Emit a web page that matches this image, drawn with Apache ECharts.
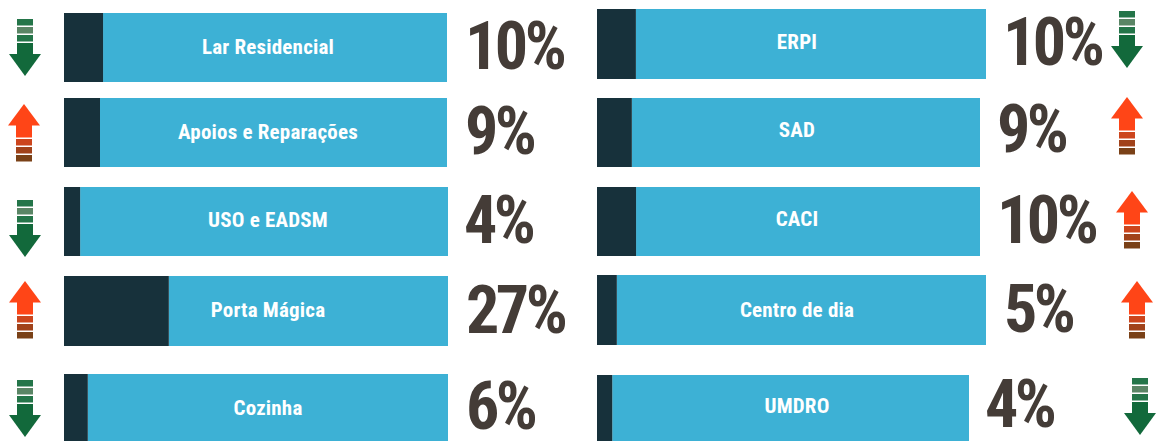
<!DOCTYPE html>
<html><head><meta charset="utf-8">
<style>
html,body{margin:0;padding:0;background:#fff}
#c{width:1163px;height:441px;letter-spacing:0.2px}
#c text[style*="66px"]{letter-spacing:-3.5px}
</style>
<script src="https://cdn.jsdelivr.net/npm/echarts@6/dist/echarts.min.js"></script>
</head><body><div id="c"></div>
<script>
const categories = ['Lar Residencial','Apoios e Reparações','USO e EADSM','Porta Mágica','Cozinha','ERPI','SAD','CACI','Centro de dia','UMDRO'];
const percentLabels = [10,9,4,27,6,10,9,10,5,4];
const barValues = [10.2,9.4,4.2,27.3,6.2,10,9.1,10.2,5.1,4.1];
const directions = ['down','up','down','up','down','down','up','up','up','down'];

// layout only: [left, top, width, height]
const boxes = [[64,13,383,69],[64,98,383,69],[64,187,384,69],[64,276,384,70],[64,374,384,67],
               [597,9,389,70],[597,98,383,69],[597,187,383,69],[597,275,389,70],[597,375,372,66]];
const pctX = [465,465,464,466,466,1003,997,997,1004,985];
const pctDy = [-1,-1,-1,-1,-1,-2,-3,-1,-1,-4];
const nameX = [268,268,268,268,268,797,797,797,797,797];
const nameDy = [1,1,2,1,0,2,3,3,0,2];
const arrowPos = [[25,19],[24,104],[25,200],[25,281],[25,380],[1127,11],[1127,97],[1132,191],[1137,281],[1140,378]];

const COL_LIGHT='#3DB1D5', COL_DARK='#17313B', COL_TXT='#443C37';
const FONT='"Liberation Sans Narrow","Roboto Condensed","Liberation Sans",sans-serif';

const grid=[],xAxis=[],yAxis=[],series=[],graphic=[];
categories.forEach((name,i)=>{
  const [l,t,w,h]=boxes[i];
  grid.push({left:l,top:t,width:w,height:h,containLabel:false});
  xAxis.push({gridIndex:i,type:'value',min:0,max:100,show:false});
  const shift = nameDy[i] ? {verticalAlign:'bottom',lineHeight:nameDy[i]*2} : {verticalAlign:'middle'};
  yAxis.push({gridIndex:i,type:'category',data:[name],z:6,
    axisLine:{show:false},axisTick:{show:false},splitLine:{show:false},
    axisLabel:{inside:true,align:'center',margin:nameX[i]-l,color:'#fff',fontFamily:FONT,fontWeight:'bold',fontSize:21,...shift}});
  const common={type:'bar',xAxisIndex:i,yAxisIndex:i,stack:'s'+i,barWidth:'100%',silent:true,animation:false};
  series.push({...common,name:name+' dark',data:[barValues[i]],itemStyle:{color:COL_DARK},z:3,
    label:{show:true,formatter:()=>percentLabels[i]+'%',position:[pctX[i]-l,h/2+pctDy[i]],align:'left',verticalAlign:'middle',
      color:COL_TXT,fontFamily:FONT,fontWeight:'bold',fontSize:66,lineHeight:50}});
  series.push({...common,name:name+' rest',data:[100-barValues[i]],itemStyle:{color:COL_LIGHT},z:2});

  // trend arrow
  const [cx,top]=arrowPos[i];
  const rect=(x,y,wd,ht,fill)=>graphic.push({type:'rect',shape:{x,y,width:wd,height:ht},style:{fill},silent:true});
  const poly=(points,fill)=>graphic.push({type:'polygon',shape:{points},style:{fill},silent:true});
  if(directions[i]==='down'){
    rect(cx-8,top,16,6.5,'#247549');
    rect(cx-8,top+8,16,6.5,'#5A8565');
    rect(cx-8,top+16,16,6.5,'#247549');
    rect(cx-8,top+24,16,12,'#12693B');
    poly([[cx-16,top+35],[cx+16,top+35],[cx,top+57]],'#12693B');
  }else{
    poly([[cx,top],[cx+16,top+21.5],[cx-16,top+21.5]],'#FF4517');
    rect(cx-8,top+21,16,12.5,'#FF4517');
    rect(cx-8,top+35,16,6.5,'#CC451D');
    rect(cx-8,top+43,16,6.5,'#A1421A');
    rect(cx-8,top+51,16,6.5,'#7A4117');
  }
});
const chart=echarts.init(document.getElementById('c'),null,{renderer:'svg'});
chart.setOption({animation:false,backgroundColor:'#fff',grid,xAxis,yAxis,series,graphic});
</script></body></html>
